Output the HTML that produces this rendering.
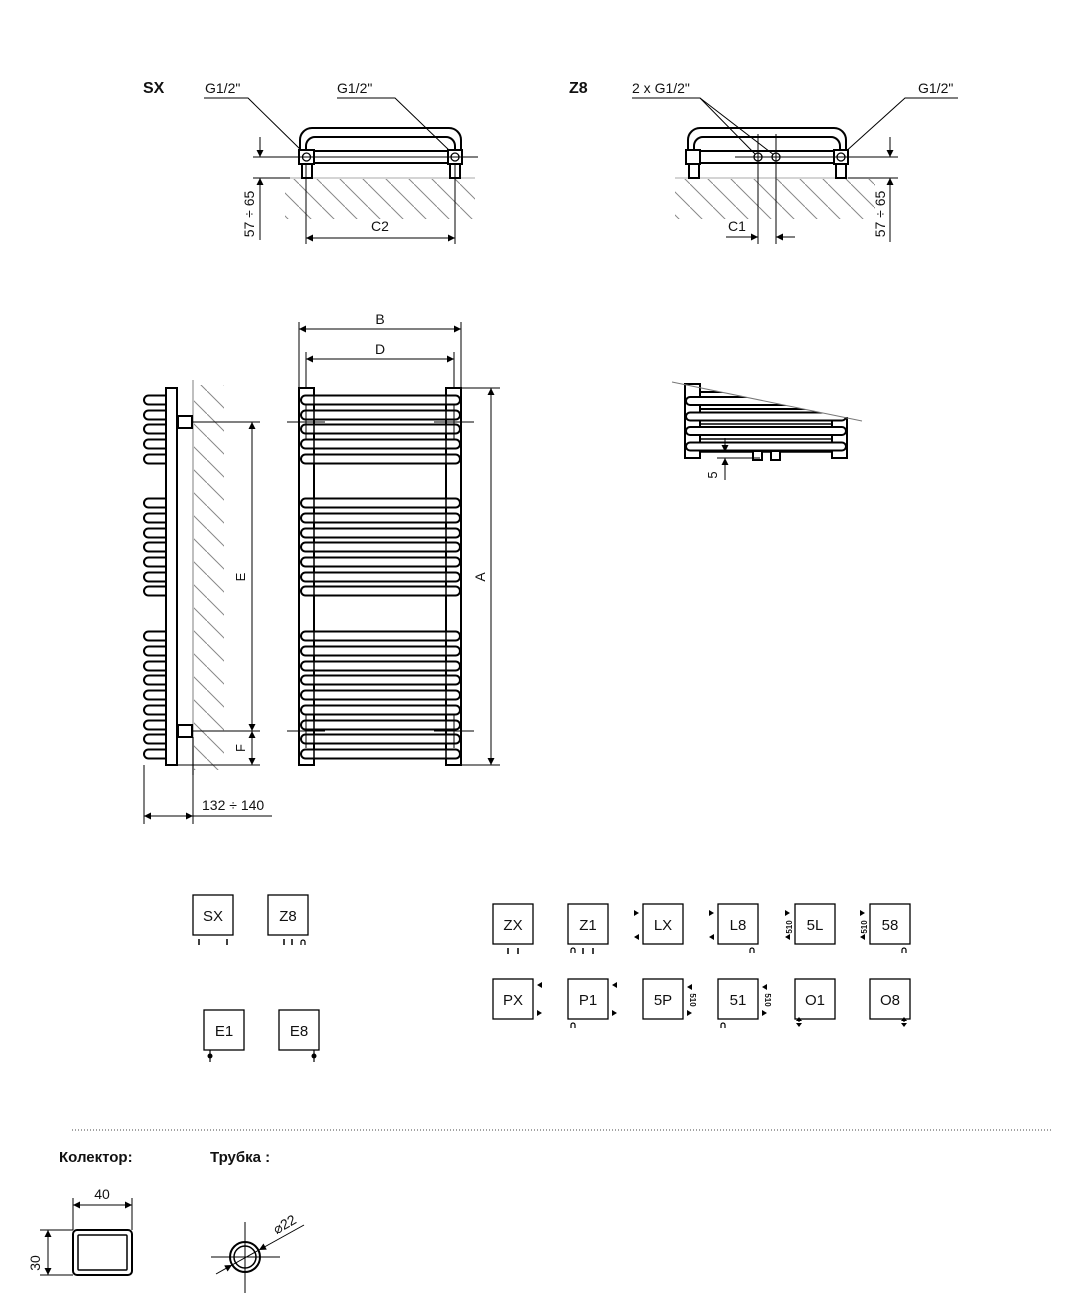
<!DOCTYPE html>
<html><head><meta charset="utf-8"><style>
html,body{margin:0;padding:0;background:#fff;}
svg{display:block;}
text{font-family:"Liberation Sans","DejaVu Sans",sans-serif;fill:#111;}
</style></head><body>
<svg width="1091" height="1308" viewBox="0 0 1091 1308" xmlns="http://www.w3.org/2000/svg">
<defs>
<marker id="a" viewBox="0 0 10 10" refX="10" refY="5" markerWidth="9" markerHeight="7" orient="auto-start-reverse" markerUnits="userSpaceOnUse"><path d="M0,0 L10,5 L0,10 z" fill="#000"/></marker>
<rect id="fp" x="301" y="-4.5" width="159" height="9" rx="4.5" fill="#fff" stroke="#000" stroke-width="2"/>
<path id="sp" d="M166,-4.5 H148.5 A4.5,4.5 0 0 0 148.5,4.5 H166" fill="#fff" stroke="#000" stroke-width="2"/>
<rect id="dp" x="686" y="-4" width="160" height="8" rx="4" fill="#fff" stroke="#000" stroke-width="2"/>
<pattern id="h" width="23" height="23" patternUnits="userSpaceOnUse"><path d="M-2,-2 L25,25" stroke="#888" stroke-width="1"/></pattern>
<clipPath id="sl"><polygon points="672,382 862,421 862,470 672,470"/></clipPath>
</defs>

<!-- SX top -->
<text x="143" y="93" font-size="16" font-weight="bold">SX</text>
<text x="205" y="93" font-size="14">G1/2"</text>
<text x="337" y="93" font-size="14">G1/2"</text>
<g stroke="#000" stroke-width="1" fill="none">
<path d="M204,98 H248 L303,152"/><path d="M337,98 H395 L452,153"/>
</g>
<rect x="285" y="179" width="190" height="40" fill="url(#h)"/>
<line x1="290" y1="178" x2="475" y2="178" stroke="#aaa"/>
<g stroke="#000" stroke-width="2" fill="none">
<path d="M300,150 V140 A12,12 0 0 1 312,128 H449 A12,12 0 0 1 461,140 V150"/>
<path d="M306,150 V146 A9,9 0 0 1 315,137 H446 A9,9 0 0 1 455,146 V150"/>
<line x1="314" y1="151" x2="448" y2="151"/><line x1="314" y1="163" x2="448" y2="163"/>
<rect x="299" y="150" width="15" height="14" fill="#fff"/><rect x="448" y="150" width="14" height="14" fill="#fff"/>
<rect x="302" y="164" width="10" height="14"/><rect x="450" y="164" width="10" height="14"/>
</g>
<g stroke="#000" stroke-width="1.3" fill="none"><circle cx="306.5" cy="157" r="4"/><circle cx="455" cy="157" r="4"/></g>
<g stroke="#000" stroke-width="1" fill="none">
<line x1="253" y1="157" x2="478" y2="157"/><line x1="253" y1="178" x2="290" y2="178"/>
<line x1="260" y1="137" x2="260" y2="157" marker-end="url(#a)"/>
<line x1="260" y1="240" x2="260" y2="178" marker-end="url(#a)"/>
<line x1="306" y1="164" x2="306" y2="244"/><line x1="455" y1="164" x2="455" y2="244"/>
<line x1="306" y1="238" x2="455" y2="238" marker-start="url(#a)" marker-end="url(#a)"/>
</g>
<text x="380" y="231" font-size="14" text-anchor="middle">C2</text>
<text transform="translate(254,214) rotate(-90)" font-size="14" text-anchor="middle">57 ÷ 65</text>

<!-- Z8 top -->
<text x="569" y="93" font-size="16" font-weight="bold">Z8</text>
<text x="632" y="93" font-size="14">2 x G1/2"</text>
<text x="918" y="93" font-size="14">G1/2"</text>
<g stroke="#000" stroke-width="1" fill="none">
<path d="M632,98 H700 L756,155"/><path d="M700,98 L774,155"/><path d="M958,98 H905 L843,154"/>
</g>
<rect x="675" y="179" width="200" height="40" fill="url(#h)"/>
<line x1="675" y1="178" x2="860" y2="178" stroke="#aaa"/>
<g stroke="#000" stroke-width="2" fill="none">
<path d="M688,150 V140 A12,12 0 0 1 700,128 H834 A12,12 0 0 1 846,140 V150"/>
<path d="M694,150 V146 A9,9 0 0 1 703,137 H831 A9,9 0 0 1 840,146 V150"/>
<line x1="700" y1="151" x2="834" y2="151"/><line x1="700" y1="163" x2="834" y2="163"/>
<rect x="686" y="150" width="14" height="14" fill="#fff"/><rect x="834" y="150" width="14" height="14" fill="#fff"/>
<rect x="689" y="164" width="10" height="14"/><rect x="836" y="164" width="10" height="14"/>
</g>
<g stroke="#000" stroke-width="1.3" fill="#fff"><circle cx="758" cy="157" r="4"/><circle cx="776" cy="157" r="4"/><circle cx="841" cy="157" r="4"/></g>
<g stroke="#000" stroke-width="1" fill="none">
<line x1="735" y1="157" x2="898" y2="157"/><line x1="848" y1="178" x2="898" y2="178"/>
<line x1="758" y1="134" x2="758" y2="244"/><line x1="776" y1="134" x2="776" y2="244"/>
<line x1="726" y1="237" x2="758" y2="237" marker-end="url(#a)"/>
<line x1="795" y1="237" x2="776" y2="237" marker-end="url(#a)"/>
<line x1="890" y1="137" x2="890" y2="157" marker-end="url(#a)"/>
<line x1="890" y1="242" x2="890" y2="178" marker-end="url(#a)"/>
</g>
<text x="737" y="231" font-size="14" text-anchor="middle">C1</text>
<text transform="translate(885,214) rotate(-90)" font-size="14" text-anchor="middle">57 ÷ 65</text>

<!-- Side view -->
<rect x="194" y="385" width="30" height="385" fill="url(#h)"/>
<line x1="193" y1="380" x2="193" y2="775" stroke="#aaa" stroke-width="1.5"/>
<g>
<use href="#sp" y="400"/><use href="#sp" y="415"/><use href="#sp" y="429"/><use href="#sp" y="444"/><use href="#sp" y="459"/>
<use href="#sp" y="503"/><use href="#sp" y="518"/><use href="#sp" y="533"/><use href="#sp" y="547"/><use href="#sp" y="562"/><use href="#sp" y="577"/><use href="#sp" y="591"/>
<use href="#sp" y="636"/><use href="#sp" y="651"/><use href="#sp" y="666"/><use href="#sp" y="680"/><use href="#sp" y="695"/><use href="#sp" y="710"/><use href="#sp" y="725"/><use href="#sp" y="739"/><use href="#sp" y="754"/>
</g>
<g stroke="#000" stroke-width="2" fill="#fff">
<rect x="166" y="388" width="11" height="377"/>
<rect x="178" y="416" width="14" height="12"/><rect x="178" y="725" width="14" height="12"/>
</g>
<g stroke="#000" stroke-width="1" fill="none">
<line x1="192" y1="422" x2="260" y2="422"/><line x1="192" y1="731" x2="260" y2="731"/><line x1="177" y1="765" x2="260" y2="765"/>
<line x1="252" y1="731" x2="252" y2="422" marker-end="url(#a)"/>
<line x1="252" y1="422" x2="252" y2="731" marker-end="url(#a)"/>
<line x1="252" y1="748" x2="252" y2="731" marker-end="url(#a)"/>
<line x1="252" y1="748" x2="252" y2="765" marker-end="url(#a)"/>
<line x1="144" y1="765" x2="144" y2="824"/><line x1="193" y1="737" x2="193" y2="824"/>
<line x1="144" y1="816" x2="193" y2="816" marker-start="url(#a)" marker-end="url(#a)"/>
<line x1="193" y1="816" x2="272" y2="816"/>
</g>
<text transform="translate(245,577) rotate(-90)" font-size="13" text-anchor="middle">E</text>
<text transform="translate(245,748) rotate(-90)" font-size="13" text-anchor="middle">F</text>
<text x="202" y="810" font-size="14">132 ÷ 140</text>

<!-- Front view -->
<g stroke="#000" stroke-width="2" fill="#fff">
<rect x="299" y="388" width="15" height="377"/><rect x="446" y="388" width="15" height="377"/>
</g>
<g>
<use href="#fp" y="400"/><use href="#fp" y="415"/><use href="#fp" y="429"/><use href="#fp" y="444"/><use href="#fp" y="459"/>
<use href="#fp" y="503"/><use href="#fp" y="518"/><use href="#fp" y="533"/><use href="#fp" y="547"/><use href="#fp" y="562"/><use href="#fp" y="577"/><use href="#fp" y="591"/>
<use href="#fp" y="636"/><use href="#fp" y="651"/><use href="#fp" y="666"/><use href="#fp" y="680"/><use href="#fp" y="695"/><use href="#fp" y="710"/><use href="#fp" y="725"/><use href="#fp" y="739"/><use href="#fp" y="754"/>
</g>
<g stroke="#000" stroke-width="1" fill="none">
<line x1="314" y1="395" x2="314" y2="758" stroke-width="1.5"/><line x1="446" y1="395" x2="446" y2="758" stroke-width="1.5"/>
<line x1="287" y1="422" x2="325" y2="422"/><line x1="434" y1="422" x2="474" y2="422"/>
<line x1="287" y1="731" x2="325" y2="731"/><line x1="434" y1="731" x2="474" y2="731"/>
<line x1="306" y1="404" x2="306" y2="440"/><line x1="454" y1="404" x2="454" y2="440"/>
<line x1="306" y1="715" x2="306" y2="748"/><line x1="454" y1="715" x2="454" y2="748"/>
<line x1="461" y1="388" x2="500" y2="388"/><line x1="461" y1="765" x2="500" y2="765"/>
<line x1="491" y1="765" x2="491" y2="388" marker-end="url(#a)"/>
<line x1="491" y1="388" x2="491" y2="765" marker-end="url(#a)"/>
<line x1="299" y1="322" x2="299" y2="388"/><line x1="461" y1="322" x2="461" y2="388"/>
<line x1="306" y1="352" x2="306" y2="388"/><line x1="454" y1="352" x2="454" y2="388"/>
<line x1="299" y1="329" x2="461" y2="329" marker-start="url(#a)" marker-end="url(#a)"/>
<line x1="306" y1="359" x2="454" y2="359" marker-start="url(#a)" marker-end="url(#a)"/>
</g>
<text x="380" y="324" font-size="14" text-anchor="middle">B</text>
<text x="380" y="354" font-size="14" text-anchor="middle">D</text>
<text transform="translate(485,577) rotate(-90)" font-size="14" text-anchor="middle">A</text>

<!-- Right detail -->
<g stroke="#000" stroke-width="2" fill="#fff">
<rect x="685" y="384" width="15" height="74"/><rect x="832" y="418" width="15" height="40"/>
</g>
<g clip-path="url(#sl)">
<line x1="700" y1="392" x2="860" y2="392" stroke="#000" stroke-width="2"/>
<line x1="700" y1="409" x2="860" y2="409" stroke="#000" stroke-width="2"/>
<use href="#dp" y="401"/><use href="#dp" y="416.5"/><use href="#dp" y="431"/><use href="#dp" y="446.5"/>
<line x1="700" y1="424" x2="832" y2="424" stroke="#000" stroke-width="1.5"/>
<line x1="700" y1="439" x2="832" y2="439" stroke="#000" stroke-width="1.5"/>
</g>
<line x1="700" y1="452" x2="832" y2="452" stroke="#000" stroke-width="1.5"/>
<g stroke="#000" stroke-width="2" fill="#fff">
<rect x="753" y="451" width="9" height="9"/><rect x="771" y="451" width="9" height="9"/>
</g>
<line x1="672" y1="382" x2="862" y2="421" stroke="#777" stroke-width="1"/>
<g stroke="#000" stroke-width="1" fill="none">
<line x1="717" y1="458" x2="760" y2="458"/>
<line x1="725" y1="438" x2="725" y2="452" marker-end="url(#a)"/>
<line x1="725" y1="480" x2="725" y2="458" marker-end="url(#a)"/>
</g>
<text transform="translate(717,475) rotate(-90)" font-size="13" text-anchor="middle">5</text>

<!-- Legend boxes -->
<g stroke="#000" stroke-width="1.3" fill="#fff">
<rect x="193" y="895" width="40" height="40"/><rect x="268" y="895" width="40" height="40"/>
<rect x="204" y="1010" width="40" height="40"/><rect x="279" y="1010" width="40" height="40"/>
<rect x="493" y="904" width="40" height="40"/><rect x="568" y="904" width="40" height="40"/><rect x="643" y="904" width="40" height="40"/><rect x="718" y="904" width="40" height="40"/><rect x="795" y="904" width="40" height="40"/><rect x="870" y="904" width="40" height="40"/>
<rect x="493" y="979" width="40" height="40"/><rect x="568" y="979" width="40" height="40"/><rect x="643" y="979" width="40" height="40"/><rect x="718" y="979" width="40" height="40"/><rect x="795" y="979" width="40" height="40"/><rect x="870" y="979" width="40" height="40"/>
</g>
<g font-size="15" text-anchor="middle">
<text x="213" y="921">SX</text><text x="288" y="921">Z8</text><text x="224" y="1036">E1</text><text x="299" y="1036">E8</text>
<text x="513" y="930">ZX</text><text x="588" y="930">Z1</text><text x="663" y="930">LX</text><text x="738" y="930">L8</text><text x="815" y="930">5L</text><text x="890" y="930">58</text>
<text x="513" y="1005">PX</text><text x="588" y="1005">P1</text><text x="663" y="1005">5P</text><text x="738" y="1005">51</text><text x="815" y="1005">O1</text><text x="890" y="1005">O8</text>
</g>
<g stroke="#000" stroke-width="1.5">
<line x1="199" y1="939" x2="199" y2="945"/><line x1="227" y1="939" x2="227" y2="945"/>
<line x1="284" y1="939" x2="284" y2="945"/><line x1="292" y1="939" x2="292" y2="945"/>
<line x1="508" y1="948" x2="508" y2="954"/><line x1="518" y1="948" x2="518" y2="954"/>
<line x1="583" y1="948" x2="583" y2="954"/><line x1="593" y1="948" x2="593" y2="954"/>
</g>
<g fill="#000" font-size="8">
<path d="M634,910 l5,3 l-5,3z"/><path d="M639,934 l-5,3 l5,3z"/>
<path d="M709,910 l5,3 l-5,3z"/><path d="M714,934 l-5,3 l5,3z"/>
<path d="M785,910 l5,3 l-5,3z"/><path d="M790,934 l-5,3 l5,3z"/>
<path d="M860,910 l5,3 l-5,3z"/><path d="M865,934 l-5,3 l5,3z"/>
<path d="M542,982 l-5,3 l5,3z"/><path d="M537,1010 l5,3 l-5,3z"/>
<path d="M617,982 l-5,3 l5,3z"/><path d="M612,1010 l5,3 l-5,3z"/>
<path d="M692,984 l-5,3 l5,3z"/><path d="M687,1010 l5,3 l-5,3z"/>
<path d="M767,984 l-5,3 l5,3z"/><path d="M762,1010 l5,3 l-5,3z"/>
<path d="M796,1021 l3,-4 l3,4z"/><path d="M796,1023 l3,4 l3,-4z"/>
<path d="M901,1021 l3,-4 l3,4z"/><path d="M901,1023 l3,4 l3,-4z"/>
<circle cx="210" cy="1056" r="2.5"/><circle cx="314" cy="1056" r="2.5"/>
<text transform="translate(792,927) rotate(-90)" text-anchor="middle" font-weight="bold">510</text>
<text transform="translate(867,927) rotate(-90)" text-anchor="middle" font-weight="bold">510</text>
<text transform="translate(690,1000) rotate(90)" text-anchor="middle" font-weight="bold">510</text>
<text transform="translate(765,1000) rotate(90)" text-anchor="middle" font-weight="bold">510</text>
</g>
<g stroke="#000" stroke-width="1.2" fill="none">
<path d="M301,945 v-3 a2,2 0 0 1 4,0 v3"/><path d="M571,953 v-3 a2,2 0 0 1 4,0 v3"/>
<path d="M750,953 v-3 a2,2 0 0 1 4,0 v3"/><path d="M902,953 v-3 a2,2 0 0 1 4,0 v3"/>
<path d="M571,1028 v-3 a2,2 0 0 1 4,0 v3"/><path d="M721,1028 v-3 a2,2 0 0 1 4,0 v3"/>
<line x1="210" y1="1050" x2="210" y2="1062"/><line x1="314" y1="1050" x2="314" y2="1062"/>
<line x1="799" y1="1019" x2="799" y2="1022"/><line x1="904" y1="1019" x2="904" y2="1022"/>
</g>

<!-- bottom -->
<line x1="72" y1="1130" x2="1052" y2="1130" stroke="#444" stroke-width="1" stroke-dasharray="1,2"/>
<text x="59" y="1162" font-size="15" font-weight="bold">Колектор:</text>
<text x="210" y="1162" font-size="15" font-weight="bold">Трубка :</text>
<g stroke="#000" fill="none">
<rect x="73" y="1230" width="59" height="45" rx="4" stroke-width="2"/>
<rect x="78" y="1235" width="49" height="35" rx="1" stroke-width="1.5"/>
<line x1="73" y1="1198" x2="73" y2="1230" stroke-width="1"/><line x1="132" y1="1198" x2="132" y2="1230" stroke-width="1"/>
<line x1="73" y1="1205" x2="132" y2="1205" stroke-width="1" marker-start="url(#a)" marker-end="url(#a)"/>
<line x1="40" y1="1230" x2="73" y2="1230" stroke-width="1"/><line x1="40" y1="1275" x2="73" y2="1275" stroke-width="1"/>
<line x1="48" y1="1230" x2="48" y2="1275" stroke-width="1" marker-start="url(#a)" marker-end="url(#a)"/>
<circle cx="245" cy="1257" r="15" stroke-width="2"/><circle cx="245" cy="1257" r="11" stroke-width="1.5"/>
<line x1="211" y1="1257" x2="280" y2="1257" stroke-width="1"/><line x1="245" y1="1222" x2="245" y2="1293" stroke-width="1"/>
<line x1="304" y1="1225" x2="259" y2="1250" stroke-width="1" marker-end="url(#a)"/>
<line x1="216" y1="1274" x2="232" y2="1265" stroke-width="1" marker-end="url(#a)"/>
<line x1="232" y1="1265" x2="259" y2="1250" stroke-width="1"/>
</g>
<text x="30" y="1253" font-size="14" transform="rotate(-90 40 1253)" text-anchor="middle">30</text>
<text x="102" y="1199" font-size="14" text-anchor="middle">40</text>
<text x="285" y="1229" font-size="14" text-anchor="middle" transform="rotate(-30 285 1225)">⌀22</text>
</svg>
</body></html>
